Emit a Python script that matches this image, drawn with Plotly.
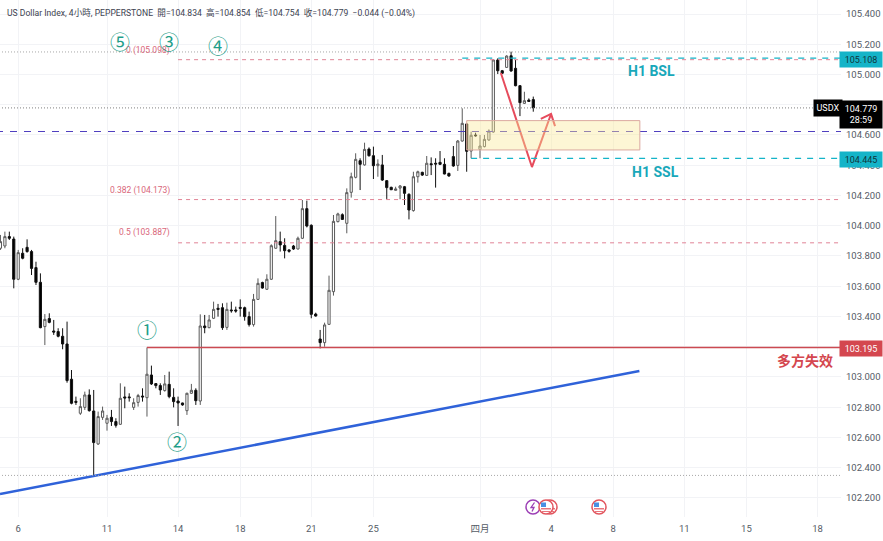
import plotly.graph_objects as go

# 4h USDX bars
open_px = [103.851,103.866,103.928,103.912,103.646,103.818,103.857,103.829,103.723,103.626,
           103.333,103.386,103.304,103.300,103.269,103.218,102.985,102.839,102.760,102.799,
           102.881,102.775,102.557,102.733,102.694,102.733,102.705,102.687,102.868,102.868,
           102.799,102.832,102.874,102.863,103.013,102.956,102.943,102.910,102.951,102.865,
           102.841,102.828,102.777,102.892,102.912,102.841,103.337,103.326,103.388,103.454,
           103.458,103.328,103.443,103.443,103.460,103.458,103.399,103.346,103.513,103.624,
           103.580,103.646,103.851,103.895,103.870,103.840,103.866,103.846,103.917,104.113,
           104.003,103.416,103.251,103.227,103.348,103.564,104.027,104.073,104.016,104.221,
           104.320,104.430,104.402,104.507,104.463,104.397,104.402,104.298,104.254,104.234,
           104.249,104.258,104.208,104.100,104.324,104.353,104.333,104.410,104.413,104.419,
           104.406,104.346,104.457,104.399,104.560,104.673,104.494,104.600,104.505,104.523,
           104.567,104.620,105.096,105.025,105.047,105.124,105.041,104.926,104.809,104.831,
           104.834]
high_px = [103.939,103.961,103.961,103.928,103.840,103.851,103.910,103.840,103.762,103.685,
           103.416,103.421,103.377,103.322,103.322,103.366,103.046,102.870,102.859,102.903,
           102.918,102.914,102.771,102.804,102.749,102.782,102.727,102.958,102.936,102.892,
           102.859,102.888,102.925,103.195,103.075,102.958,102.958,103.013,103.035,102.925,
           102.870,102.830,102.896,102.954,102.925,103.414,103.410,103.410,103.498,103.483,
           103.487,103.491,103.498,103.465,103.513,103.465,103.432,103.549,103.652,103.630,
           103.679,103.877,104.064,103.961,103.917,103.844,103.873,103.928,104.170,104.166,
           104.009,103.425,103.311,103.359,103.670,104.071,104.086,104.082,104.247,104.351,
           104.479,104.446,104.549,104.518,104.523,104.439,104.468,104.302,104.258,104.258,
           104.269,104.263,104.214,104.357,104.364,104.357,104.461,104.452,104.446,104.494,
           104.446,104.351,104.527,104.567,104.776,104.677,104.622,104.615,104.600,104.600,
           104.637,105.100,105.107,105.030,105.127,105.151,105.096,104.930,104.886,104.842,
           104.854]
low_px = [103.840,103.851,103.906,103.586,103.640,103.778,103.822,103.674,103.608,103.322,
          103.211,103.355,103.278,103.262,103.183,102.962,102.819,102.815,102.749,102.782,
          102.771,102.352,102.550,102.716,102.645,102.676,102.665,102.683,102.793,102.837,
          102.782,102.804,102.837,102.738,102.947,102.925,102.881,102.903,102.859,102.799,
          102.676,102.810,102.749,102.888,102.815,102.815,103.289,103.322,103.383,103.399,
          103.311,103.311,103.425,103.425,103.399,103.372,103.333,103.333,103.509,103.584,
          103.575,103.641,103.848,103.829,103.784,103.822,103.840,103.844,103.912,103.989,
          103.388,103.399,103.189,103.200,103.344,103.538,104.022,104.038,103.950,104.186,
          104.313,104.236,104.397,104.457,104.309,104.324,104.296,104.177,104.236,104.232,
          104.175,104.137,104.042,104.093,104.285,104.329,104.329,104.335,104.252,104.401,
          104.340,104.324,104.390,104.362,104.556,104.357,104.446,104.589,104.446,104.518,
          104.562,104.615,105.003,105.003,105.043,105.019,104.922,104.725,104.805,104.818,
          104.754]
close_px = [103.895,103.928,103.917,103.646,103.822,103.785,103.829,103.718,103.626,103.326,
            103.381,103.361,103.297,103.269,103.218,102.976,102.826,102.832,102.804,102.881,
            102.777,102.566,102.738,102.775,102.727,102.705,102.680,102.859,102.861,102.863,
            102.830,102.877,102.868,103.018,102.954,102.943,102.914,102.954,102.870,102.837,
            102.828,102.815,102.892,102.912,102.843,103.337,103.326,103.377,103.447,103.447,
            103.326,103.447,103.438,103.436,103.454,103.399,103.346,103.513,103.619,103.588,
            103.646,103.868,103.901,103.873,103.835,103.831,103.846,103.917,104.113,103.998,
            103.414,103.403,103.227,103.344,103.573,104.029,104.078,104.042,104.219,104.324,
            104.439,104.406,104.505,104.463,104.397,104.408,104.302,104.252,104.238,104.243,
            104.263,104.214,104.104,104.324,104.357,104.335,104.413,104.404,104.408,104.406,
            104.342,104.329,104.395,104.560,104.677,104.492,104.598,104.595,104.527,104.571,
            104.626,105.096,105.025,105.008,105.122,105.023,104.926,104.814,104.827,104.822,
            104.779]
bars = list(range(len(open_px)))

price_ticks = [105.4,105.2,105.0,104.8,104.6,104.4,104.2,104.0,103.8,103.6,103.4,103.2,103.0,102.8,102.6,102.4,102.2]
# 104.800 and 103.200 sit fully behind the price tags in the reference
price_labels = ["105.400","105.200","105.000","","104.600","104.400","104.200","104.000","103.800",
                "103.600","103.400","","103.000","102.800","102.600","102.400","102.200"]
date_ticks = [4,24,40,54,70,84,108,124,138,154,168,184]
date_labels = ["6","11","14","18","21","25","四月","4","8","11","15","18"]

# drawn levels and tools, price units / bar numbers
last_price = 104.779
top_dots = 105.149
low_dots = 102.349
mid_dash = 104.623
fib_levels = [105.098,104.173,103.887]
bsl = 105.108
ssl = 104.445
fail_level = 103.195
zone = [104.501,104.695]
zone_bars = [105,144]
trend_bars = [-0.1,143.9]
trend_px = [102.226,103.040]
arrow_bars = [112.7,119.7,124,None,121.7,124,124.9]
arrow_px = [105.010,104.388,104.739,None,104.706,104.739,104.659]

PLOT_W = 841
PLOT_H = 517
FONT = "Roboto, 'Noto Sans CJK TC', sans-serif"
TEAL = "#14b4c8"
PINK = "#e08496"
GREEN = "#1f9e89"
GREY = "#555b66"

fig = go.Figure()
fig.add_trace(go.Candlestick(
    x=bars, open=open_px, high=high_px, low=low_px, close=close_px,
    increasing=dict(line=dict(color="#5a5a5a", width=1), fillcolor="#ffffff"),
    decreasing=dict(line=dict(color="#111111", width=1), fillcolor="#000000"),
    whiskerwidth=0, showlegend=False))
fig.add_trace(go.Scatter(x=trend_bars, y=trend_px, mode="lines",
                         line=dict(color="#2f62d9", width=2.5), showlegend=False))
fig.add_trace(go.Scatter(x=arrow_bars, y=arrow_px, mode="lines",
                         line=dict(color="#e64b5c", width=2), showlegend=False))


def hline(y, x0, color, dash, width=1):
    fig.add_shape(type="line", xref="x", yref="y", x0=x0, x1=189.5, y0=y, y1=y,
                  line=dict(color=color, width=width, dash=dash))


hline(top_dots, -1, "#a8a8a8", "1px,2px")
hline(last_price, -1, "#808080", "1px,2px")
hline(low_dots, -1, "#a8a8a8", "1px,2px")
hline(mid_dash, -1, "#5040c0", "7px,7px", 1.2)
for level in fib_levels:
    hline(level, 40, PINK, "4px,4px")
hline(bsl, 104, TEAL, "6px,6px", 1.2)
hline(ssl, 106, TEAL, "6px,6px", 1.2)
hline(fail_level, 33, "#cc4a52", "solid", 1.5)

fig.add_shape(type="rect", xref="x", yref="y", x0=zone_bars[0], x1=zone_bars[1],
              y0=zone[0], y1=zone[1], fillcolor="rgba(250,232,150,0.40)",
              line=dict(color="#dba9a0", width=1))


def label(px, py, text, color=GREY, size=10, xanchor="center", **kw):
    fig.add_annotation(xref="paper", yref="paper", x=px / PLOT_W, y=1 - py / PLOT_H,
                       text=text, showarrow=False, xanchor=xanchor, yanchor="middle",
                       font=dict(color=color, size=size, family=FONT), **kw)


label(5, 13, "US Dollar Index, 4小時, PEPPERSTONE&nbsp;&nbsp;開=104.834&nbsp;&nbsp;高=104.854&nbsp;&nbsp;低=104.754&nbsp;&nbsp;收=104.779&nbsp;&nbsp;−0.044 (−0.04%)",
      color="#3d4250", size=8.6, xanchor="left")

label(172, 51, "0 (105.098)", color="#d9667a", size=8.5, xanchor="right")
label(172, 191, "0.382 (104.173)", color="#d9667a", size=8.5, xanchor="right")
label(172, 233, "0.5 (103.887)", color="#d9667a", size=8.5, xanchor="right")

for px, py, mark in [(120, 43, "⑤"), (169, 43, "③"), (218, 47, "④"), (147, 331, "①"), (177, 443, "②")]:
    label(px, py, mark, color=GREEN, size=20)

label(651, 71, "<b>H1 BSL</b>", color="#18a8ba", size=14)
label(655, 172, "<b>H1 SSL</b>", color="#18a8ba", size=14)
label(805, 361, "<b>多方失效</b>", color="#d4474f", size=14)

# price tags on the right scale
for py, text, bg, fg in [(59, "105.108", TEAL, "#10343a"), (159, "104.445", TEAL, "#10343a"),
                         (348, "103.195", "#d4474f", "#ffffff")]:
    label(861, py, text, color=fg, size=9, bgcolor=bg, width=40, height=13)
label(828, 108, "USDX", color="#ffffff", size=9, bgcolor="#000000", width=26, height=14)
label(861, 115, "104.779<br>28:59", color="#ffffff", size=9, bgcolor="#000000", width=40, height=25)


def circle(cx, cy, r, **kw):
    fig.add_shape(type="circle", xref="paper", yref="paper",
                  x0=(cx - r) / PLOT_W, x1=(cx + r) / PLOT_W,
                  y0=1 - (cy + r) / PLOT_H, y1=1 - (cy - r) / PLOT_H, **kw)


def box(x0, x1, y0, y1, color):
    fig.add_shape(type="rect", xref="paper", yref="paper", x0=x0 / PLOT_W, x1=x1 / PLOT_W,
                  y0=1 - y1 / PLOT_H, y1=1 - y0 / PLOT_H, fillcolor=color, line=dict(width=0))


# event icons under the bars
circle(533, 507, 7, fillcolor="#ffffff", line=dict(color="#9c3fb5", width=1.5))
bolt = [(534.5, 502.5), (531, 507.5), (534, 507.5), (532, 511.5)]
fig.add_shape(type="path", xref="paper", yref="paper",
              path="M " + " L ".join(f"{x / PLOT_W},{1 - y / PLOT_H}" for x, y in bolt),
              line=dict(color="#9c3fb5", width=1.3))
for cx in [550, 546, 599]:
    circle(cx, 507, 7, fillcolor="#ffffff", line=dict(color="#e2555e", width=1.5))
    box(cx - 5, cx + 5, 508, 509.5, "#e8757c")
    box(cx - 4, cx + 4, 511, 512, "#e8757c")
    box(cx - 5, cx, 502.5, 507, "#4a90e2")

fig.update_layout(
    width=883, height=541, margin=dict(l=0, r=42, t=0, b=24),
    paper_bgcolor="#ffffff", plot_bgcolor="#ffffff",
    font=dict(family=FONT, color=GREY, size=9),
    showlegend=False,
    xaxis=dict(range=[-0.1, 189.3], rangeslider=dict(visible=False), tickvals=date_ticks, ticktext=date_labels,
               ticklabelstandoff=4, showgrid=True, gridcolor="#f2f3f6", zeroline=False, showline=False,
               ticks="", tickfont=dict(size=9.5)),
    yaxis=dict(range=[102.074, 105.4926], side="right", tickvals=price_ticks, ticktext=price_labels, ticklabelstandoff=4,
               showgrid=True, gridcolor="#f2f3f6", zeroline=False, showline=False, ticks="", tickfont=dict(size=9.5)),
)

fig.write_html("out.html", config=dict(displayModeBar=False), post_script="document.body.style.margin='0';")
